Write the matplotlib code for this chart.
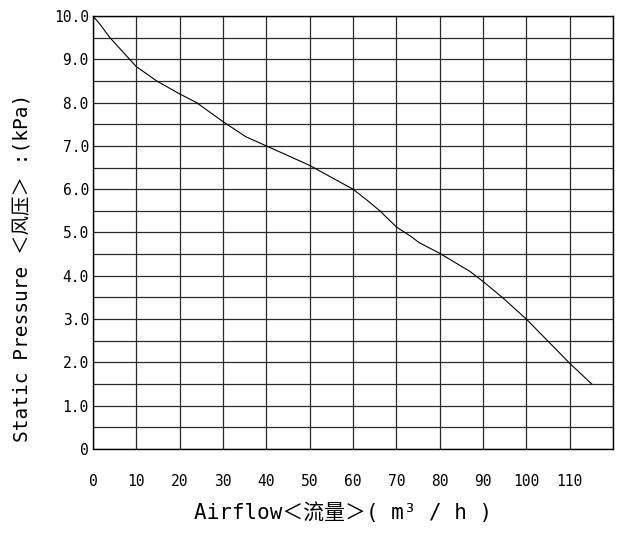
import matplotlib
matplotlib.use("Agg")
import matplotlib.pyplot as plt
import numpy as np

# curva: caudal (m3/h) vs presion estatica (kPa)
airflow = [0, 1.6, 3.9, 10, 14.7, 20, 23.9, 30, 35.3, 40, 50, 54.7, 60, 63.2, 66.2,
           70, 73.5, 75.2, 80, 87, 90, 94.7, 100, 105.1, 110, 115.1]
pressure = [10.0, 9.81, 9.5, 8.83, 8.5, 8.2, 8.0, 7.56, 7.21, 7.0, 6.55, 6.29, 6.0, 5.75, 5.5,
            5.13, 4.9, 4.77, 4.52, 4.1, 3.87, 3.48, 3.0, 2.48, 1.98, 1.5]

x_ticks = list(range(0, 120, 10))
y_ticks = list(range(0, 11))
y_tick_labels = ["0"] + [f"{v:.1f}" for v in y_ticks[1:]]

FONT = ["DejaVu Sans Mono", "Noto Sans CJK SC"]
MONO = "DejaVu Sans Mono"

fig = plt.figure(figsize=(6.33, 5.37), dpi=100)
ax = fig.add_axes([93 / 633, 88 / 537, 520 / 633, 433 / 537])

ax.plot(airflow, pressure, color="black", linewidth=0.8)

ax.set_xlim(0, 120)
ax.set_ylim(0, 10)
ax.set_xticks(x_ticks)
ax.set_yticks(y_ticks)
ax.set_yticks(np.arange(0.5, 10, 1.0), minor=True)
ax.set_xticks(range(0, 121, 10), minor=True)
ax.set_yticklabels(y_tick_labels, family=MONO, fontsize=10.5)
ax.set_xticklabels([str(v) for v in x_ticks], family=MONO, fontsize=10.5)
ax.tick_params(which="both", length=0)
ax.tick_params(axis="x", pad=18)
ax.tick_params(axis="y", pad=3)

ax.grid(True, which="both", color="#2a2a2a", linewidth=0.9)
ax.set_axisbelow(True)
for s in ax.spines.values():
    s.set_color("black")
    s.set_linewidth(1.0)

fig.text(343 / 633, 1 - 513 / 537, "Airflow＜流量＞( m³ / h )", family=FONT,
         fontsize=15, ha="center", va="center")
fig.text(22 / 633, 1 - 268 / 537, "Static Pressure ＜风压＞ :(kPa)", family=FONT,
         fontsize=14, ha="center", va="center", rotation=90)

fig.savefig("out.png", dpi=100)
